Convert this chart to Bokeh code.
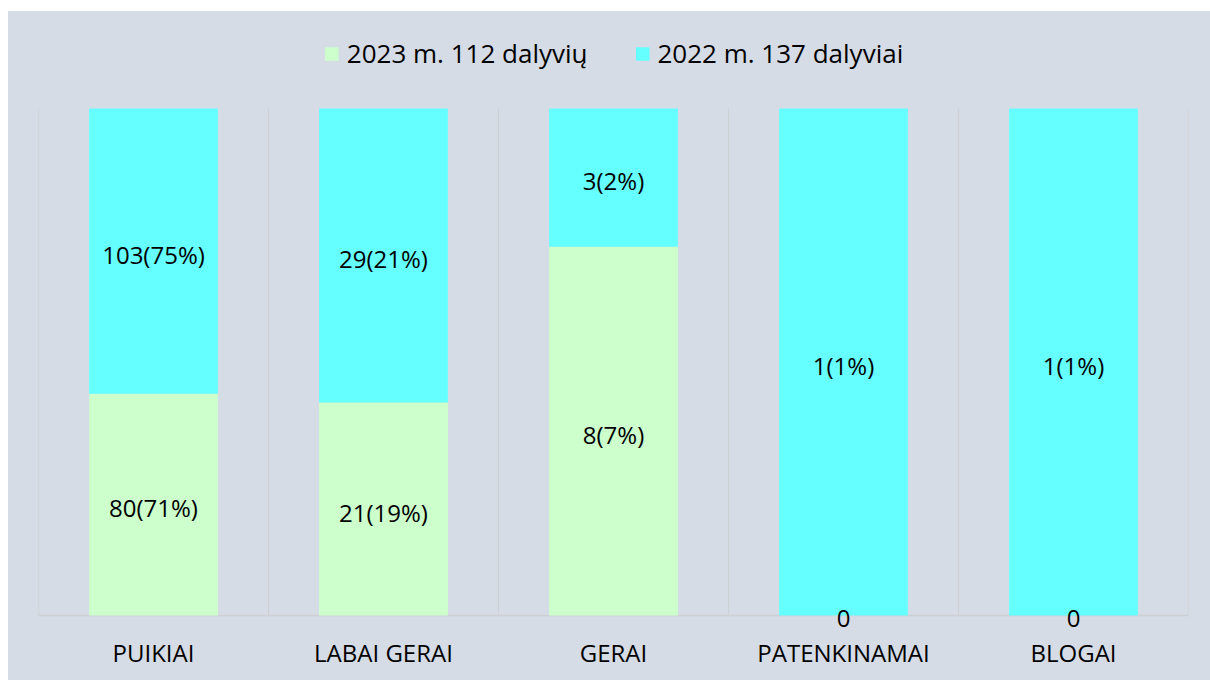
from bokeh.plotting import figure
from bokeh.models import (ColumnDataSource, FactorRange, Range1d, FixedTicker,
                          Legend, LegendItem)
from bokeh.core.properties import value
from bokeh.embed import file_html
from bokeh.resources import INLINE

# ---- data ----
categories = ["PUIKIAI", "LABAI GERAI", "GERAI", "PATENKINAMAI", "BLOGAI"]
count_2023 = [80, 21, 8, 0, 0]
count_2022 = [103, 29, 3, 1, 1]
total_2023 = 112
total_2022 = 137
series_names = ["2023 m. 112 dalyvių", "2022 m. 137 dalyviai"]
colors = ["#ccffcc", "#66ffff"]

FONT = "Open Sans"
BG = "#d6dce5"

# 100% stacked shares
share_2023 = [a / (a + b) if (a + b) else 0 for a, b in zip(count_2023, count_2022)]
share_2022 = [b / (a + b) if (a + b) else 0 for a, b in zip(count_2023, count_2022)]

src = ColumnDataSource(dict(cat=categories, s2023=share_2023, s2022=share_2022))

BAR_PX = 507.0  # pixel height of the 0..1 span
p = figure(width=1202, height=669,
           x_range=FactorRange(factors=categories, range_padding=0),
           y_range=Range1d(-20 / BAR_PX, 604 / BAR_PX),
           output_backend="svg", toolbar_location=None, title=None,
           min_border_left=30, min_border_right=22, min_border_top=0,
           min_border_bottom=45)
p.margin = (11, 0, 0, 8)
p.background_fill_color = None
p.border_fill_color = None
p.styles = {"background-color": BG}
p.outline_line_color = None

# vertical separators between categories and baseline
bounds = list(range(len(categories) + 1))
p.segment(x0=bounds, y0=[0] * len(bounds), x1=bounds, y1=[1] * len(bounds),
          line_color="#cdd0d4", line_width=1.2)
p.xgrid.visible = False
p.ygrid.ticker = FixedTicker(ticks=[0])
p.ygrid.grid_line_color = "#cdd0d4"
p.ygrid.grid_line_width = 1.5

rs = p.vbar_stack(["s2023", "s2022"], x="cat", width=0.56, color=colors,
                  line_color=None, source=src)

# labels
lx, ly, lt = [], [], []
for i, c in enumerate(categories):
    a, b = count_2023[i], count_2022[i]
    lx.append(c)
    if a > 0:
        ly.append(share_2023[i] / 2)
        lt.append(f"{a}({round(100 * a / total_2023)}%)")
    else:
        ly.append(0); lt.append("0")
    lx.append(c)
    if b > 0:
        ly.append(share_2023[i] + share_2022[i] / 2)
        lt.append(f"{b}({round(100 * b / total_2022)}%)")
    else:
        ly.append(share_2023[i]); lt.append("0")

p.text(x=lx, y=ly, text=lt, text_align="center", text_baseline="middle",
       y_offset=3, text_font=value(FONT), text_font_size="24px", text_color="#000000")

p.yaxis.visible = False
ax = p.xaxis[0]
ax.axis_line_color = None
ax.major_tick_line_color = None
ax.minor_tick_line_color = None
ax.major_tick_out = 0
ax.major_tick_in = 0
ax.major_label_standoff = 0
ax.major_label_text_font = FONT
ax.major_label_text_font_size = "24px"
ax.major_label_text_color = "#000000"

legend = Legend(items=[LegendItem(label=series_names[0], renderers=[rs[0]]),
                       LegendItem(label=series_names[1], renderers=[rs[1]])],
                location="top_center", orientation="horizontal",
                background_fill_alpha=0, border_line_color=None,
                label_text_font=FONT, label_text_font_size="26px",
                label_text_color="#000000",
                glyph_width=17, glyph_height=17, label_standoff=7,
                spacing=46, padding=0, margin=24)
p.add_layout(legend, "center")

open("out.html", "w").write(file_html(p, INLINE))
